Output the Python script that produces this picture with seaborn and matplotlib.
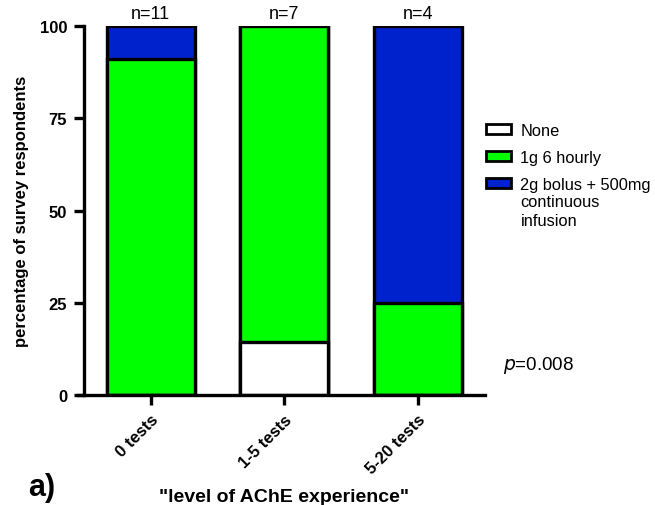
import matplotlib
matplotlib.use('Agg')
import matplotlib.pyplot as plt
import matplotlib.patches as mpatches
import seaborn as sns
import pandas as pd

groups = ['0 tests', '1-5 tests', '5-20 tests']
n_labels = ['n=11', 'n=7', 'n=4']
none_pct = [0.0, 14.3, 0.0]
hourly_pct = [90.9, 85.7, 25.0]
bolus_pct = [9.1, 0.0, 75.0]
series_names = ['None', '1g 6 hourly', '2g bolus + 500mg']
extra_label = 'continuous\ninfusion'
series_colors = ['#ffffff', '#00ff00', '#0022cc']

sns.set_style('ticks')
plt.rcParams['font.family'] = ['Liberation Sans', 'DejaVu Sans']
plt.rcParams['text.color'] = 'black'
plt.rcParams['axes.labelcolor'] = 'black'
plt.rcParams['xtick.color'] = 'black'
plt.rcParams['ytick.color'] = 'black'
plt.rcParams['axes.edgecolor'] = 'black'

df = pd.DataFrame({'group': groups, 'none': none_pct,
                   'hourly': hourly_pct, 'bolus': bolus_pct})
df['c1'] = df['none']
df['c2'] = df['c1'] + df['hourly']
df['c3'] = df['c2'] + df['bolus']

fig = plt.figure(figsize=(6.55, 5.06), dpi=100)
ax = fig.add_axes([0.128, 0.217, 0.612, 0.730])

# draw cumulative layers, tallest first
for col, color in zip(['c3', 'c2', 'c1'], series_colors[::-1]):
    sns.barplot(data=df, x='group', y=col, color=color, width=0.66,
                edgecolor='black', linewidth=2.4, saturation=1, ax=ax,
                errorbar=None)

ax.set_xlim(-0.5, 2.5)
ax.set_ylim(0, 100)
ax.set_yticks([0, 25, 50, 75, 100])
ax.set_ylabel('percentage of survey respondents', fontsize=12,
              fontweight='bold', labelpad=8)
ax.set_xlabel('"level of AChE experience"', fontsize=14, fontweight='bold')
ax.xaxis.set_label_coords(0.5, -0.274)
ax.xaxis.label.set_va('center')
ax.tick_params(axis='both', width=2.4, length=7, labelsize=12, pad=5)
for lab in ax.get_yticklabels():
    lab.set_fontweight('bold')
ax.set_xticks(range(len(groups)))
ax.set_xticklabels(groups, rotation=45, ha='right', rotation_mode='anchor',
                   fontweight='bold')
for s in ['top', 'right']:
    ax.spines[s].set_visible(False)
for s in ['left', 'bottom']:
    ax.spines[s].set_linewidth(2.4)
ax.spines['bottom'].set_bounds(-0.545, 2.5)

for i, t in enumerate(n_labels):
    ax.text(i, 101.0, t, ha='center', va='bottom', fontsize=13)

handles = [mpatches.Patch(facecolor=c, edgecolor='black', linewidth=2.0, label=l)
           for c, l in zip(series_colors, series_names)]
leg = fig.legend(handles=handles, loc='upper left',
                 bbox_to_anchor=(486 / 655, 1 - 124 / 506),
                 frameon=False, fontsize=11.8, handlelength=1.5,
                 handleheight=0.55, labelspacing=0.72, handletextpad=0.6,
                 borderpad=0, borderaxespad=0)

# continuation lines of the last legend entry, under its first line
fig.canvas.draw()
last = leg.get_texts()[-1]
bb = last.get_window_extent().transformed(fig.transFigure.inverted())
fig.text(bb.x0, bb.y0 - 0.004, extra_label, fontsize=11.8, va='top',
         ha='left', linespacing=1.4)

fig.text(503 / 655, 1 - 365 / 506, r'$p$=0.008', fontsize=13.5, va='center')
fig.text(28 / 655, 1 - 488 / 506, 'a)', fontsize=22, fontweight='bold',
         va='center')

fig.savefig('out.png', dpi=100)
